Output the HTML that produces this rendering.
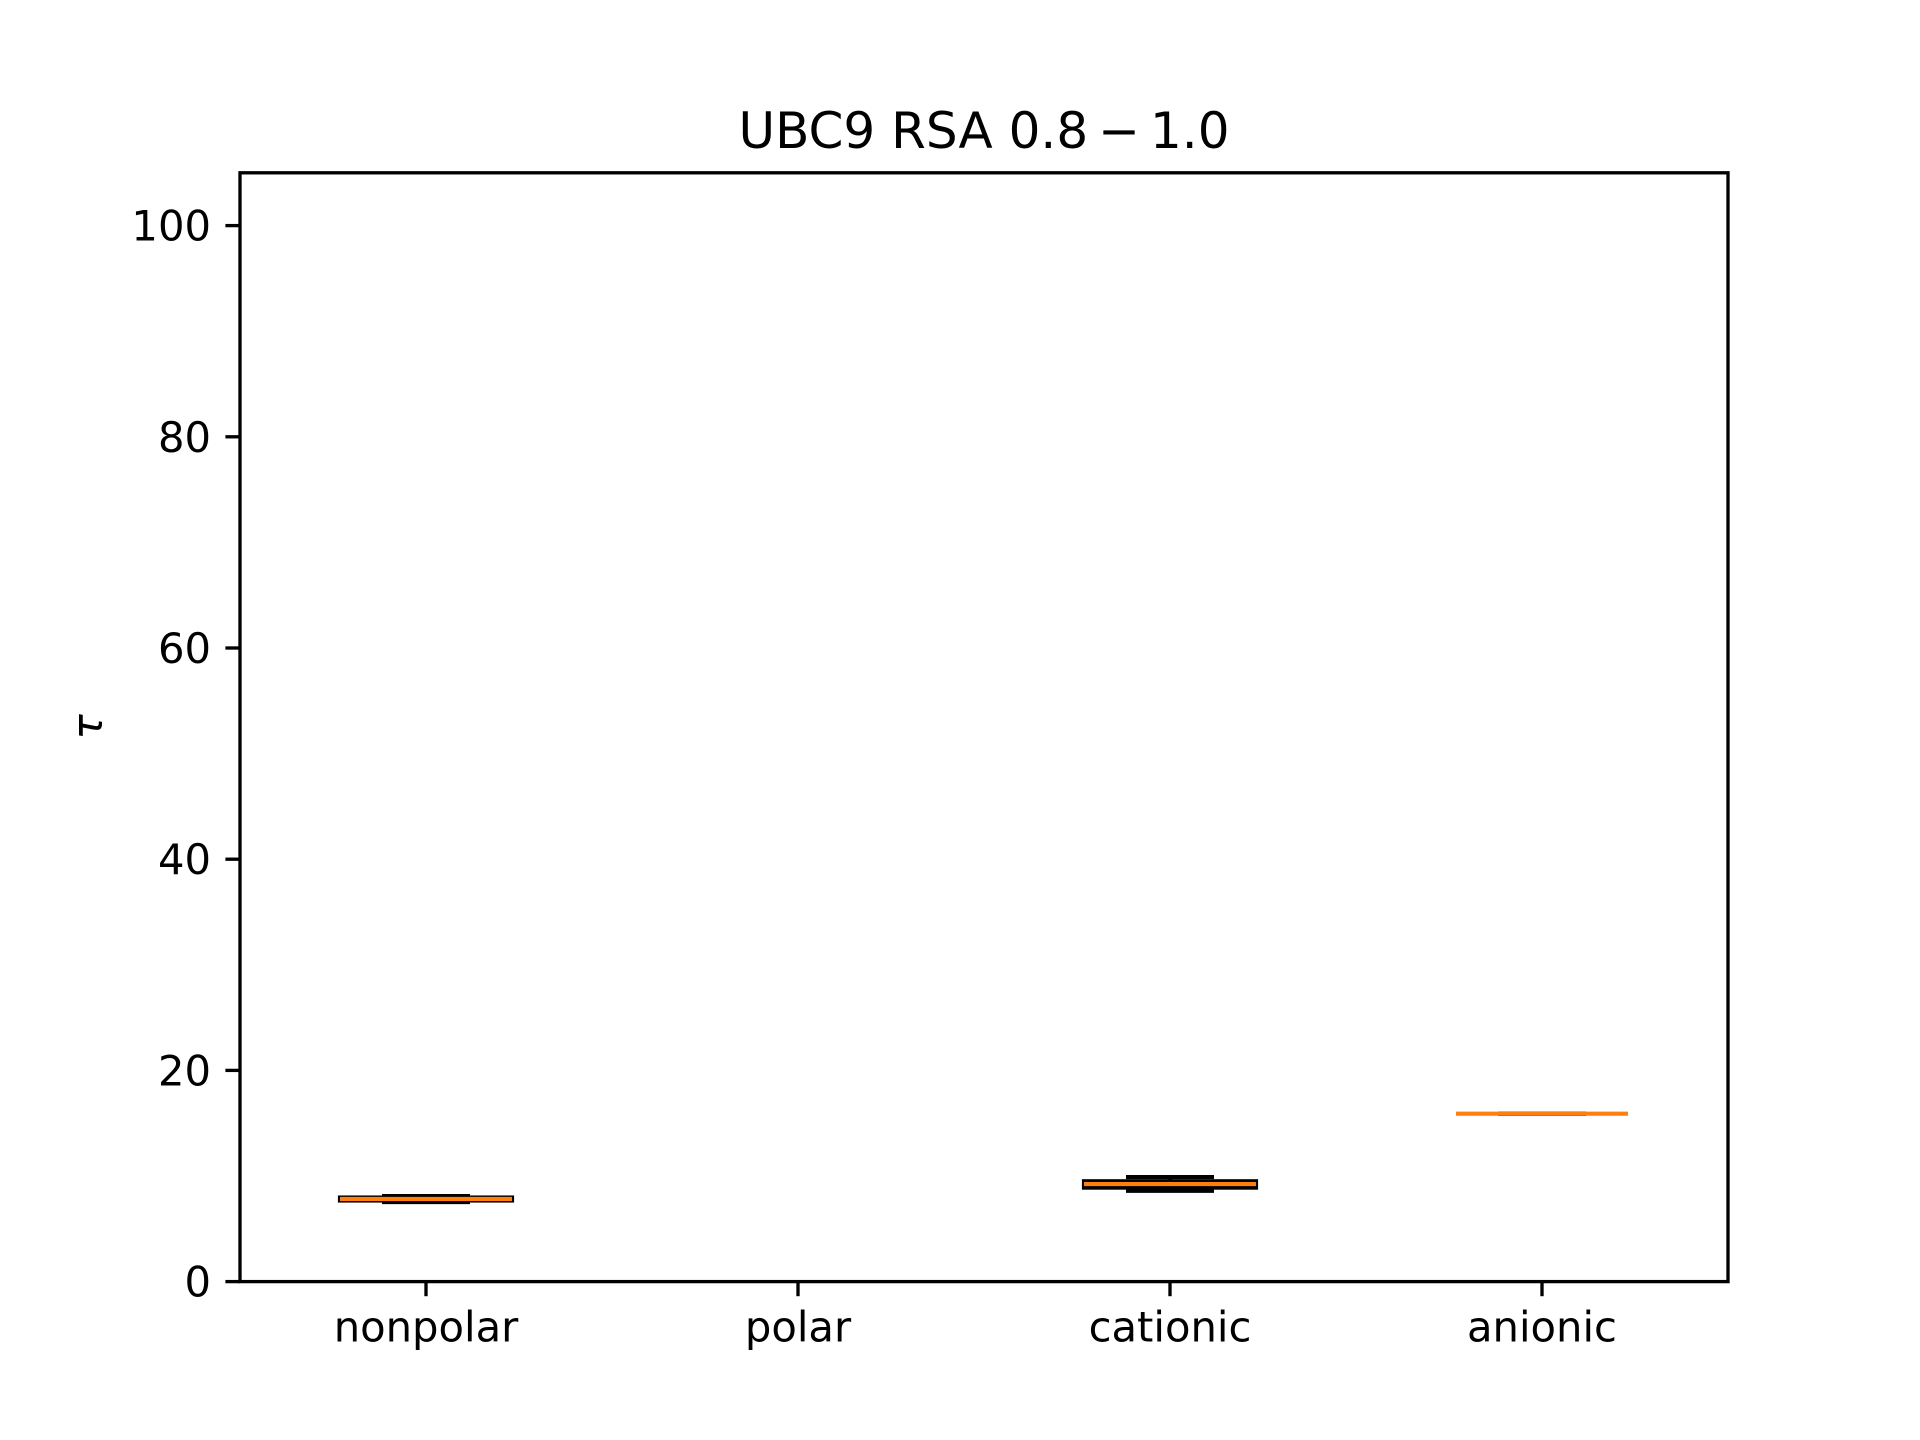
<!DOCTYPE html>
<html><head><meta charset="utf-8"><style>
html,body{margin:0;padding:0;background:#fff;}
svg{display:block;font-family:"DejaVu Sans","Liberation Sans",sans-serif;}
</style></head><body>
<svg id="chart" width="1920" height="1440" viewBox="0 0 1920 1440" xmlns="http://www.w3.org/2000/svg">
<rect x="0" y="0" width="1920" height="1440" fill="#fff"/>
<text x="984" y="148" font-size="50" text-anchor="middle">UBC9 RSA 0.8&#8201;−&#8201;1.0</text>
<text transform="translate(102,727) rotate(-90)" font-size="42" font-style="italic" text-anchor="middle">τ</text>
<g id="marks"></g>
<g id="axes"></g>
</svg>
<script>
const categories = ["nonpolar", "polar", "cationic", "anionic"];
const whiskerLow = [7.54, null, 8.6, 15.9];
const q1 = [7.68, null, 8.9, 15.9];
const medians = [7.82, null, 9.24, 15.9];
const q3 = [7.96, null, 9.5, 15.9];
const whiskerHigh = [8.1, null, 9.9, 15.9];
const yTicks = [0, 20, 40, 60, 80, 100];

const L = 240, R = 1728, T = 172.8, B = 1281.6;
const yMin = 0, yMax = 105, xMin = 0.5, xMax = 4.5;
const xs = i => L + (i + 1 - xMin) / (xMax - xMin) * (R - L);
const ys = v => B - (v - yMin) / (yMax - yMin) * (B - T);
const NS = "http://www.w3.org/2000/svg";
function mk(tag, attrs, parent) {
  const e = document.createElementNS(NS, tag);
  for (const k in attrs) e.setAttribute(k, attrs[k]);
  parent.appendChild(e);
  return e;
}
const marks = document.getElementById('marks');
const axes = document.getElementById('axes');
const boxW = 172, capW = 88, lw = 4.17;
categories.forEach((c, i) => {
  if (medians[i] === null) return;
  const g = mk('g', {}, marks);
  
  
  const cx = xs(i);
  const st = {stroke: '#000', 'stroke-width': lw, fill: 'none'};
  const w1 = mk('line', Object.assign({x1: cx, x2: cx, y1: ys(whiskerLow[i]), y2: ys(q1[i])}, st), g);
  
  
  const w2 = mk('line', Object.assign({x1: cx, x2: cx, y1: ys(q3[i]), y2: ys(whiskerHigh[i])}, st), g);
  
  
  const c1 = mk('line', Object.assign({x1: cx - capW / 2, x2: cx + capW / 2, y1: ys(whiskerLow[i]), y2: ys(whiskerLow[i])}, st), g);
  
  
  const c2 = mk('line', Object.assign({x1: cx - capW / 2, x2: cx + capW / 2, y1: ys(whiskerHigh[i]), y2: ys(whiskerHigh[i])}, st), g);
  
  
  const b = mk('rect', Object.assign({x: cx - boxW / 2, y: ys(q3[i]), width: boxW, height: Math.max(0, ys(q1[i]) - ys(q3[i]))}, st), g);
  
  
  const m = mk('line', {x1: cx - boxW / 2, x2: cx + boxW / 2, y1: ys(medians[i]), y2: ys(medians[i]), stroke: '#ff7f0e', 'stroke-width': lw}, g);
  
  
});
const frame = mk('rect', {x: L, y: T, width: R - L, height: B - T, fill: 'none', stroke: '#000', 'stroke-width': 3.33}, axes);


yTicks.forEach(v => {
  const t = mk('line', {x1: L - 14.6, x2: L, y1: ys(v), y2: ys(v), stroke: '#000', 'stroke-width': 3.33}, axes);
  
  
  const tx = mk('text', {x: L - 29, y: ys(v) + 15, 'font-size': 41.7, 'text-anchor': 'end'}, axes);
  tx.textContent = v;
  
  
});
categories.forEach((c, i) => {
  const t = mk('line', {x1: xs(i), x2: xs(i), y1: B, y2: B + 14.6, stroke: '#000', 'stroke-width': 3.33}, axes);
  
  
  const tx = mk('text', {x: xs(i), y: B + 60, 'font-size': 41.7, 'text-anchor': 'middle'}, axes);
  tx.textContent = c;
  
  
});
</script>
</body></html>
